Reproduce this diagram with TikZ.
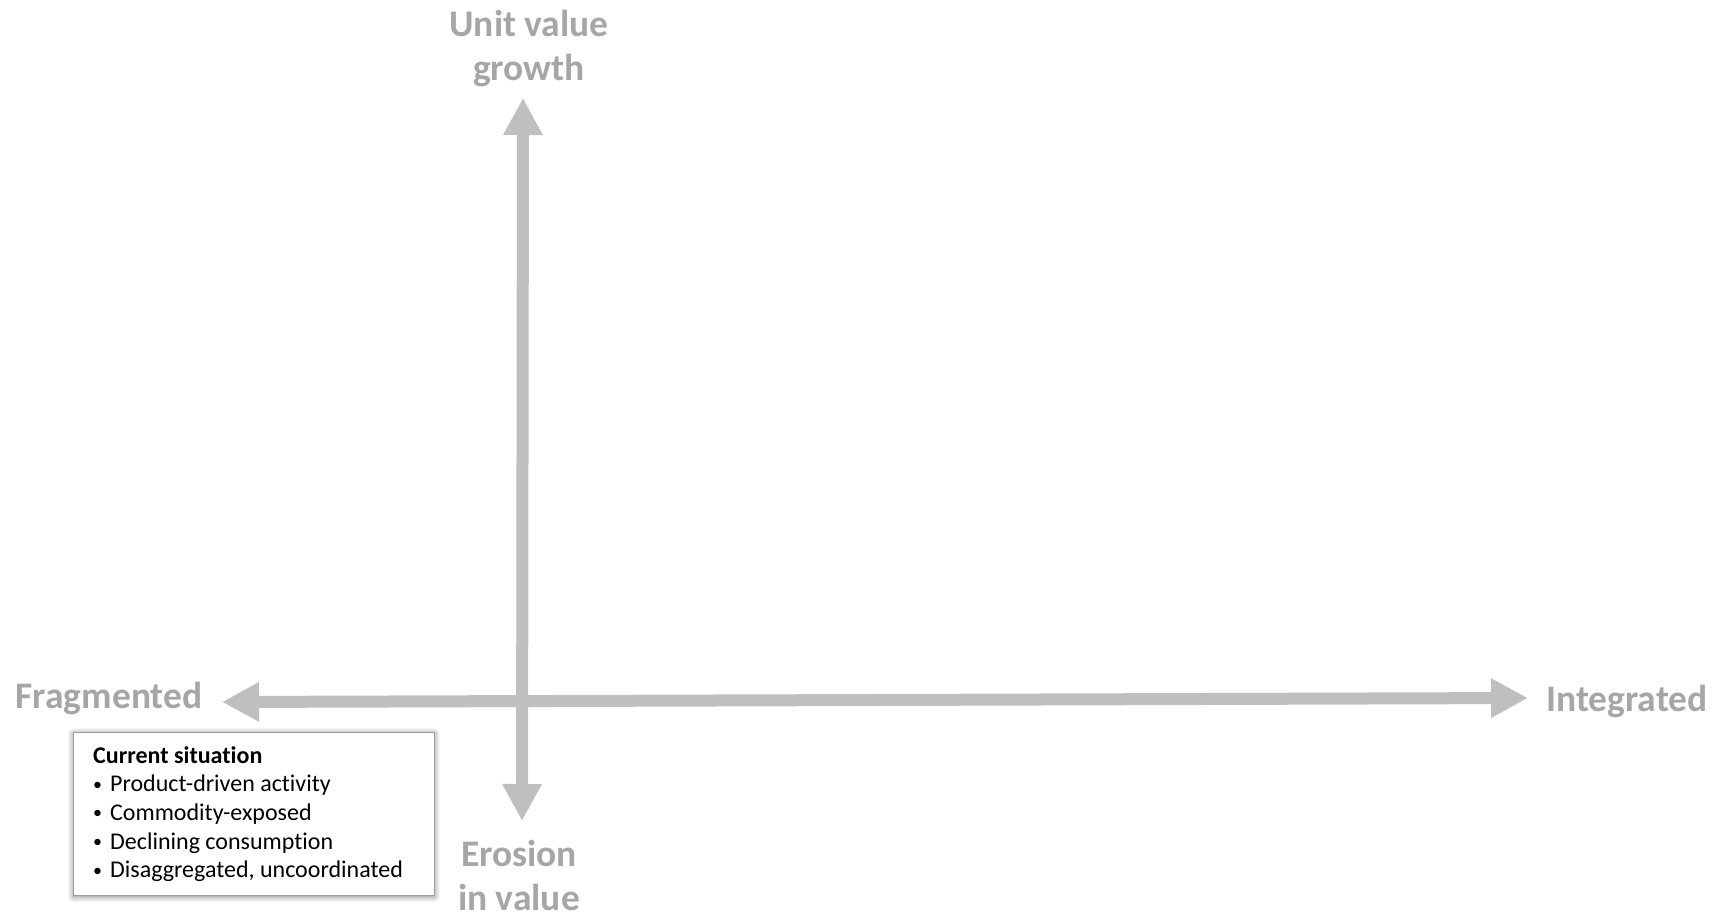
\documentclass[tikz,border=0pt]{standalone}
\usepackage{fontspec}
\setmainfont{Carlito}[Ligatures=NoCommon]
\usetikzlibrary{arrows.meta,shadows.blur}

\definecolor{axisgray}{HTML}{BFBFBF}
\definecolor{labelgray}{HTML}{A6A6A6}
\definecolor{boxline}{HTML}{9E9E9E}

\newcommand{\smallbullet}{\makebox[17pt][l]{\raisebox{1.5pt}{\fontsize{18}{18}\selectfont•}}}

\tikzset{
  axis/.style={draw=axisgray, line width=12pt,
    {Triangle[length=37pt,width=37pt]}-{Triangle[length=37pt,width=37pt]}},
  axislabel/.style={text=labelgray, inner sep=0pt, anchor=base,
    font=\fontsize{37.5}{44.5}\selectfont\bfseries},
  infobox/.style={draw=boxline, line width=0.8pt, fill=white, inner sep=0pt,
    blur shadow={shadow xshift=0.5pt, shadow yshift=-1.5pt,
      shadow blur radius=6pt, shadow blur steps=14, shadow opacity=50}},
  infotext/.style={inner sep=0pt, anchor=base west,
    font=\fontsize{24}{28.7}\selectfont},
}

\begin{document}
\begin{tikzpicture}[x=1pt,y=-1pt]
  \useasboundingbox (0,0) rectangle (1716,916);

  % axis end points
  \coordinate (W) at (222,702);
  \coordinate (E) at (1528,698);
  \coordinate (N) at (523,98);
  \coordinate (S) at (522,821);

  % axes
  \draw[axis] (W) -- (E);
  \draw[axis] (N) -- (S);

  % axis labels
  \node[axislabel] (up) at (529,36)
    {\begin{tabular}[t]{@{}c@{}}Unit value\\growth\end{tabular}};
  \node[axislabel] (down) at (519,866)
    {\begin{tabular}[t]{@{}c@{}}Erosion\\in value\end{tabular}};
  \node[axislabel] (left) at (109,708) {Fragmented};
  \node[axislabel] (right) at (1627,711) {Integrated};

  % current situation box
  \node[infobox, minimum width=361pt, minimum height=163pt] (sit) at (253.5,813.5) {};
  \node[infotext] (sittext) at (93,763)
    {\begin{tabular}[t]{@{}l@{}}
      \textbf{Current situation}\\
      \smallbullet Product-driven activity\\
      \smallbullet Commodity-exposed\\
      \smallbullet Declining consumption\\
      \smallbullet Disaggregated, uncoordinated
    \end{tabular}};
\end{tikzpicture}
\end{document}
